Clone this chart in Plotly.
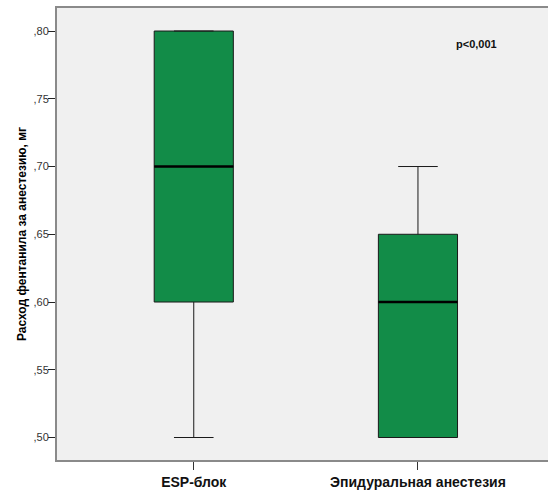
import plotly.graph_objects as go

categories = ["ESP-блок", "Эпидуральная анестезия"]
q1 = [0.60, 0.50]
median = [0.70, 0.60]
q3 = [0.80, 0.65]
lower = [0.50, 0.50]
upper = [0.80, 0.70]
ytick_vals = [0.50, 0.55, 0.60, 0.65, 0.70, 0.75, 0.80]
ytick_text = [",50", ",55", ",60", ",65", ",70", ",75", ",80"]

xpos = list(range(len(categories)))
box_w = 0.353
fill = "#128c48"
dark = "#1a1a1a"

fig = go.Figure()
fig.add_trace(go.Box(
    x=xpos, q1=q1, median=median, q3=q3, lowerfence=lower, upperfence=upper,
    width=box_w, whiskerwidth=0.5, fillcolor=fill,
    line=dict(color=dark, width=1), boxpoints=False, hoverinfo="skip",
    showlegend=False,
))
# thicker median lines
for xi, m in zip(xpos, median):
    fig.add_trace(go.Scatter(
        x=[xi - box_w / 2, xi + box_w / 2], y=[m, m], mode="lines",
        line=dict(color="#000000", width=2.5), showlegend=False, hoverinfo="skip",
    ))

font = "Liberation Sans, Arial, sans-serif"
fig.update_layout(
    width=548, height=490,
    margin=dict(l=57, r=0, t=8, b=30),
    paper_bgcolor="white", plot_bgcolor="#f0f0f0",
    font=dict(family=font, color="#000000"),
    xaxis=dict(
        range=[-0.61, 1.58], tickvals=xpos, ticktext=[f"<b>{c}</b>" for c in categories],
        showgrid=False, zeroline=False, showline=True, linecolor="#8a8a8a",
        linewidth=2, mirror=True, ticks="outside", ticklen=8, tickcolor="#333333",
        tickfont=dict(size=14, family=font, color="#111111"), automargin=False,
    ),
    yaxis=dict(
        range=[0.4834, 0.817], tickvals=ytick_vals, ticktext=ytick_text,
        showgrid=False, zeroline=False, showline=True, linecolor="#8a8a8a",
        linewidth=2, ticks="outside", ticklen=7, tickcolor="#222222",
        ticklabelstandoff=-3,
        tickfont=dict(size=11, family=font, color="#333333"), automargin=False,
        title=dict(text="<b>Расход фентанила за анестезию, мг</b>",
                   font=dict(size=12, family=font), standoff=4),
    ),
    annotations=[dict(
        text="<b>p<0,001</b>", x=0.855, y=0.92, xref="paper", yref="paper",
        xanchor="center", yanchor="middle",
        showarrow=False, font=dict(size=11, family=font, color="#111111"),
    )],
)

fig.write_html(
    "out.html",
    config={"displayModeBar": False},
    post_script="document.body.style.margin='0';document.body.style.overflow='hidden';",
)
